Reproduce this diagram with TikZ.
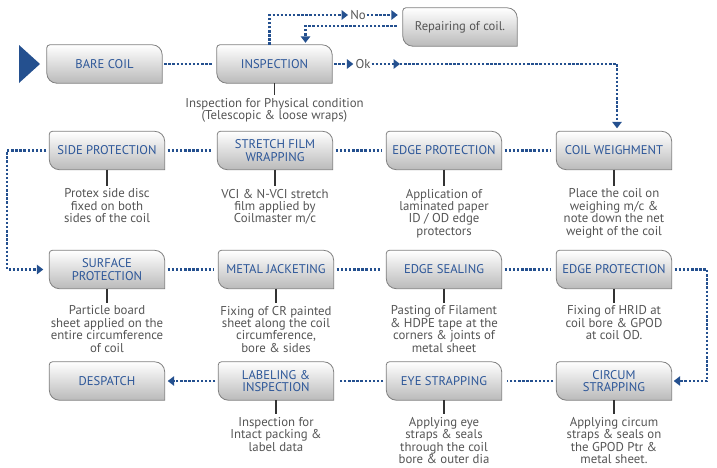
\documentclass[tikz,border=0pt]{standalone}
\usepackage{fontspec}
\setmainfont{PT Sans}
\usetikzlibrary{arrows.meta,positioning,backgrounds,calc}
\definecolor{lblue}{HTML}{2C5698}
\definecolor{dblue}{HTML}{24508F}
\definecolor{dgray}{HTML}{555555}
\definecolor{bordergray}{HTML}{808080}
\newcommand\drawbox[1]{%
  \shade[top color=white, middle color=black!6, bottom color=black!27, draw=bordergray, line width=0.8pt]
  ([yshift=10pt]#1.south west) -- ([yshift=-3pt]#1.north west)
  .. controls ([yshift=-1.3pt]#1.north west) and ([xshift=1.3pt]#1.north west) .. ([xshift=3pt]#1.north west)
  -- ([xshift=-10pt]#1.north east)
  .. controls ([xshift=-4.5pt]#1.north east) and ([yshift=-4.5pt]#1.north east) .. ([yshift=-10pt]#1.north east)
  -- (#1.south east) -- ([xshift=10pt]#1.south west)
  .. controls ([xshift=4.5pt]#1.south west) and ([yshift=4.5pt]#1.south west) .. ([yshift=10pt]#1.south west)
  -- cycle;}
\begin{document}
\begin{tikzpicture}[x=1pt,y=-1pt,
  pbox/.style={minimum width=115pt, minimum height=38pt, inner sep=1pt, align=center, text=lblue, font=\fontsize{12.6}{12.6}\selectfont},
  desc/.style={align=center, text=dgray, font=\fontsize{12.8}{12.4}\selectfont, inner sep=1pt},
  dotline/.style={draw=dblue, line width=2.7pt, dash pattern=on 2.4pt off 1.7pt},
  tip/.style={-{Triangle[length=6.5pt,width=9.5pt]}},
  stem/.style={draw=black!80, line width=1.1pt, shorten >=2pt}]
\useasboundingbox (0,0) rectangle (717,467);

% start marker
\fill[dblue] (19,45) -- (40,64) -- (19,83) -- cycle;

% row 1
\node[pbox] (bare) at (104.5,64) {BARE COIL};
\node[pbox] (insp) at (274.5,64) {INSPECTION};
\node[pbox, text=dgray, minimum width=114pt] (rep) at (460,27) {Repairing of coil.};
% row 2
\node[pbox] (side) at (107,150.5) {SIDE PROTECTION};
\node[pbox] (stretch) at (275,150.5) {STRETCH FILM\\WRAPPING};
\node[pbox] (edgeprot) at (444,150.5) {EDGE PROTECTION};
\node[pbox] (weigh) at (614,150.5) {COIL WEIGHMENT};
% row 3
\node[pbox] (surface) at (107,269.5) {SURFACE\\PROTECTION};
\node[pbox] (metal) at (276,269.5) {METAL JACKETING};
\node[pbox] (sealing) at (444,269.5) {EDGE SEALING};
\node[pbox] (edgeprotb) at (614,269.5) {EDGE PROTECTION};
% row 4
\node[pbox] (desp) at (107,381) {DESPATCH};
\node[pbox] (label) at (276,381) {LABELING \&\\INSPECTION};
\node[pbox] (eye) at (444,381) {EYE STRAPPING};
\node[pbox] (circum) at (614,381) {CIRCUM\\STRAPPING};

\begin{scope}[on background layer]
\foreach \n in {bare,insp,rep,side,stretch,edgeprot,weigh,surface,metal,sealing,edgeprotb,desp,label,eye,circum}
  {\drawbox{\n}}
\end{scope}

% descriptions
\node[desc, below=14pt of insp] (dinsp) {Inspection for Physical condition\\(Telescopic \& loose wraps)};
\node[desc, below=18pt of side] (dside) {Protex side disc\\fixed on both\\sides of the coil};
\node[desc, below=18pt of stretch] (dstretch) {VCI \& N-VCI stretch\\film applied by\\Coilmaster m/c};
\node[desc, below=18pt of edgeprot] (dedgeprot) {Application of\\laminated paper\\ID / OD edge\\protectors};
\node[desc, below=18pt of weigh] (dweigh) {Place the coil on\\weighing m/c \&\\note down the net\\weight of the coil};
\node[desc, below=16pt of surface] (dsurface) {Particle board\\sheet applied on the\\entire circumference\\of coil};
\node[desc, below=16pt of metal] (dmetal) {Fixing of CR painted\\sheet along the coil\\circumference,\\bore \& sides};
\node[desc, below=16pt of sealing] (dsealing) {Pasting of Filament\\\& HDPE tape at the\\corners \& joints of\\metal sheet};
\node[desc, below=16pt of edgeprotb] (dedgeprotb) {Fixing of HRID at\\coil bore \& GPOD\\at coil OD.};
\node[desc, below=16pt of label] (dlabel) {Inspection for\\Intact packing \&\\label data};
\node[desc, below=16pt of eye] (deye) {Applying eye\\straps \& seals\\through the coil\\bore \& outer dia};
\node[desc, below=16pt of circum] (dcircum) {Applying circum\\straps \& seals on\\the GPOD Ptr \&\\metal sheet.};

\foreach \n in {insp,side,stretch,edgeprot,weigh,surface,metal,sealing,edgeprotb,label,eye,circum}
  {\draw[stem] (\n.south) -- (d\n.north);}

% plain connectors
\draw[dotline, shorten <=2pt, shorten >=4pt] (bare) -- (insp);
\draw[dotline, shorten <=3pt, shorten >=5pt] (side) -- (stretch);
\draw[dotline, shorten <=3pt, shorten >=5pt] (stretch) -- (edgeprot);
\draw[dotline, shorten <=3pt, shorten >=5pt] (edgeprot) -- (weigh);
\draw[dotline, shorten <=3pt, shorten >=5pt] (surface) -- (metal);
\draw[dotline, shorten <=3pt, shorten >=5pt] (metal) -- (sealing);
\draw[dotline, shorten <=3pt, shorten >=5pt] (sealing) -- (edgeprotb);
\draw[dotline, shorten <=3pt, shorten >=5pt] (circum) -- (eye);
\draw[dotline, shorten <=3pt, shorten >=5pt] (eye) -- (label);
\draw[dotline, tip, shorten <=3pt, shorten >=3pt] (label) -- (desp);

% No branch
\node[desc] (no) at (358,15) {No};
\draw[dotline, tip, shorten >=1pt] ([xshift=-5pt]insp.north) |- (no.west);
\draw[dotline, tip, shorten >=5pt] (no.east) -- (no.east -| rep.west);
\draw[dotline, tip, shorten >=2pt] ([xshift=-6pt,yshift=1pt]rep.west) -| ([xshift=31pt]insp.north);

% Ok branch
\node[desc] (ok) at (363,64) {Ok};
\coordinate (okm) at (400,64);
\draw[dotline, tip, shorten <=2pt, shorten >=1pt] (insp.east) -- (ok.west);
\draw[dotline, tip] (ok.east) -- (okm);
\draw[dotline, tip, shorten >=3pt] (okm) -| ([xshift=3pt]weigh.north);

% loops
\coordinate (lbend) at (7,150.5);
\draw[dotline, tip, shorten <=3pt, shorten >=6pt] (side.west) -- (lbend) |- (surface.west);
\coordinate (rbend) at (707,269.5);
\draw[dotline, tip, shorten <=3pt, shorten >=2pt] (edgeprotb.east) -- (rbend) |- (circum.east);
\end{tikzpicture}
\end{document}
